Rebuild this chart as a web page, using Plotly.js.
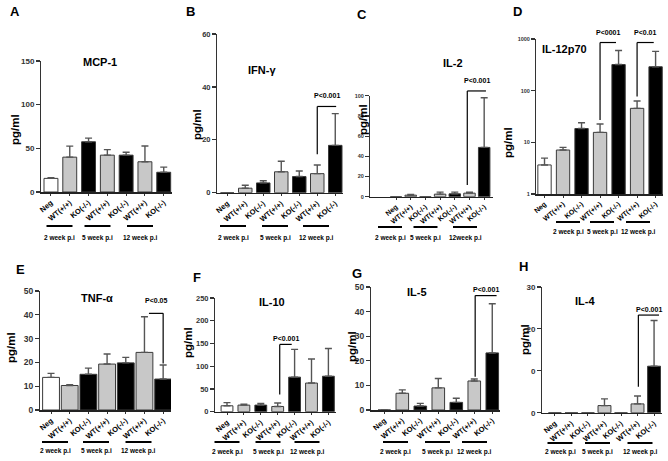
<!DOCTYPE html>
<html><head><meta charset="utf-8">
<script src="https://cdn.plot.ly/plotly-3.0.1.min.js"></script>
<style>body{margin:0;background:#fff}#chart{width:668px;height:461px}</style>
</head><body><div id="chart"></div>
<script>
// ---------- data ----------
const categories = ['Neg', 'WT(+/+)', 'KO(-/-)', 'WT(+/+)', 'KO(-/-)', 'WT(+/+)', 'KO(-/-)'];
const groupNames = ['2 week p.i', '5 week p.i', '12 week p.i'];
const groupNamesC = ['2 week p.i', '5 week p.i', '12week p.i'];

const mcp1Mean = [15.6, 39.9, 57.5, 42.2, 42.2, 34.6, 22.6];
const mcp1Sem  = [0.7, 12.6, 4.2, 6.3, 3.4, 18.0, 5.9];
const ifngMean = [0, 1.7, 3.7, 7.9, 6.1, 7.2, 17.9];
const ifngSem  = [0, 1.1, 0.8, 4.0, 2.1, 3.3, 12.0];
const il2Mean  = [0, 1.5, 0, 2.5, 2.8, 3.5, 48.8];
const il2Sem   = [0, 0.8, 0, 2.0, 1.7, 1.0, 49.2];
const il12Mean = [3.65, 7.1, 18.5, 15.6, 320, 45.5, 290];
const il12Sem  = [1.3, 0.9, 5.5, 7.1, 280, 17.5, 285];
const tnfMean  = [13.7, 10.3, 15.0, 19.3, 19.8, 24.2, 13.0];
const tnfSem   = [1.7, 0.3, 2.6, 4.2, 2.3, 15.0, 5.9];
const il10Mean = [13, 14.5, 14.5, 11.5, 76, 63, 78];
const il10Sem  = [7, 2, 3.5, 7.5, 61, 53, 61];
const il5Mean  = [0, 6.8, 1.6, 9.0, 3.1, 11.8, 23.2];
const il5Sem   = [0, 1.4, 1.1, 3.8, 1.7, 0.8, 20.0];
const il4Mean  = [0, 0, 0, 1.7, 0, 2.1, 11.1];
const il4Sem   = [0, 0, 0, 1.6, 0, 1.9, 10.9];

// ---------- styling / layout ----------
const W = 668, H = 461;
const FONT = 'Liberation Sans, Arial, sans-serif';
const barColors = ['#ffffff', '#c8c8c8', '#000000', '#c8c8c8', '#000000', '#c8c8c8', '#000000'];

const panels = [
  {letter:'A', title:'MCP-1', mean:mcp1Mean, sem:mcp1Sem, xpx:[41,172], ypx:[61,192], xr:[-0.53,6.44], yr:[0,150],
   tv:[0,50,100,150], tick:8, cat:7.5, bw:0.74, letterP:[15,12], titleP:[100,62], ylabP:[15,130],
   groups:{c:[59.5,97.5,140], half:13, ly:226, ty:238, names:groupNames}, br:[]},
  {letter:'B', title:'IFN-γ', mean:ifngMean, sem:ifngSem, xpx:[217,343], ypx:[34,192.7], xr:[-0.57,6.43], yr:[0,60],
   tv:[0,20,40,60], tick:7.5, cat:7.5, bw:0.75, letterP:[190,12], titleP:[262,70], ylabP:[197,125],
   groups:{c:[233,275,316], half:13, ly:226, ty:238, names:groupNames},
   br:[{leg:5, end:6.05, level:32.6, bottom:14.5, text:'P<0.001', dy:11}]},
  {letter:'C', title:'IL-2', mean:il2Mean, sem:il2Sem, xpx:[370,493], ypx:[95.7,196.7], xr:[-1.77,6.6], yr:[0,100],
   tv:[0,20,40,60,80,100], tick:5.5, cat:7, bw:0.78, letterP:[362,15], titleP:[453,63], ylabP:[363,120],
   groups:{c:[390,425.5,465], half:12, ly:227, ty:238, names:groupNamesC},
   br:[{leg:4.85, end:6.12, level:104.7, bottom:11.6, text:'P<0.001', dy:10}]},
  {letter:'D', title:'IL-12p70', mean:il12Mean, sem:il12Sem, xpx:[536,663], ypx:[39,194], xr:[-0.46,6.4], yr:[0,3], log:true,
   tv:[1,10,100,1000], tick:5.5, cat:7, bw:0.72, letterP:[517,12], titleP:[564,49], ylabP:[508,143],
   groups:{c:[568,602,638], half:12, ly:222, ty:232, names:groupNames},
   br:[{leg:3, end:3.86, level:855, bottom:27.2, text:'P<0001', dy:10},
       {leg:5, end:5.9, level:855, bottom:76.9, text:'P<0.01', dy:10}]},
  {letter:'E', title:'TNF-α', mean:tnfMean, sem:tnfSem, xpx:[40,171], ypx:[291,410], xr:[-0.59,6.42], yr:[0,50],
   tv:[0,10,20,30,40,50], tick:8.5, cat:7.5, bw:0.9, letterP:[20,269], titleP:[97,298], ylabP:[11,348],
   groups:{c:[55,96,138.5], half:13, ly:442, ty:451, names:groupNames},
   br:[{leg:6, end:5.24, level:40.6, bottom:19.5, text:'P<0.05', dy:13}]},
  {letter:'F', title:'IL-10', mean:il10Mean, sem:il10Sem, xpx:[215,336], ypx:[298,411.7], xr:[-0.71,6.45], yr:[0,250],
   tv:[0,50,100,150,200,250], tick:7.5, cat:7.5, bw:0.7, letterP:[197,277], titleP:[272,302], ylabP:[188,343],
   groups:{c:[227,268,307], half:12.5, ly:442, ty:451.5, names:groupNames},
   br:[{leg:3.12, end:3.83, level:148, bottom:38, text:'P<0.001', dy:6}]},
  {letter:'G', title:'IL-5', mean:il5Mean, sem:il5Sem, xpx:[371,500], ypx:[287,410], xr:[-0.74,6.43], yr:[0,50],
   tv:[0,10,20,30,40,50], tick:8.5, cat:7.5, bw:0.7, letterP:[357,273], titleP:[417,292], ylabP:[352,347],
   groups:{c:[395.5,437.5,474.5], half:12.5, ly:442, ty:451.5, names:groupNames},
   br:[{leg:5.05, end:6.24, level:46.5, bottom:13.5, text:'P<0.001', dy:6}]},
  {letter:'H', title:'IL-4', mean:il4Mean, sem:il4Sem, xpx:[542,662], ypx:[287,412.7], xr:[-0.78,6.48], yr:[0,30],
   tv:[0,10,20,30], tt:['0','0','20','30'], tick:8, cat:7.5, bw:0.78, letterP:[523,266], titleP:[585,301], ylabP:[525,340],
   groups:{c:[560,597.5,640], half:12.5, ly:443, ty:451.5, names:groupNames},
   br:[{leg:5.05, end:6.3, level:23.3, bottom:6.2, text:'P<0.001', dy:6}]}
];

const px2x = v => v / W;
const px2y = v => 1 - v / H;
function xPx(p, xd) { return p.xpx[0] + (xd - p.xr[0]) / (p.xr[1] - p.xr[0]) * (p.xpx[1] - p.xpx[0]); }
function yPx(p, v) {
  const f = p.log ? (Math.log10(v) - p.yr[0]) / (p.yr[1] - p.yr[0]) : (v - p.yr[0]) / (p.yr[1] - p.yr[0]);
  return p.ypx[1] - f * (p.ypx[1] - p.ypx[0]);
}

const traces = [], shapes = [], annotations = [];
const layout = {
  width: W, height: H, margin: {l:0, r:0, t:0, b:0}, showlegend: false,
  paper_bgcolor: '#fff', plot_bgcolor: '#fff',
  font: {family: FONT, color: '#000'}
};
const xs = categories.map((c, i) => i);

panels.forEach((p, k) => {
  const n = k + 1, sx = n === 1 ? '' : String(n);
  traces.push({
    type: 'bar', x: xs, y: p.mean, xaxis: 'x' + sx, yaxis: 'y' + sx, width: p.bw,
    marker: {color: barColors, line: {color: '#3a3a3a', width: 1}},
    error_y: {type: 'data', symmetric: false, array: p.sem, arrayminus: p.sem.map(() => 0),
              color: '#555', thickness: 1.4, width: 3.5},
    hoverinfo: 'skip'
  });
  layout['xaxis' + sx] = {
    domain: [px2x(p.xpx[0]), px2x(p.xpx[1])], range: p.xr, anchor: 'y' + sx,
    tickmode: 'array', tickvals: xs, ticktext: categories, tickangle: -40,
    tickfont: {size: p.cat, family: FONT, weight: 'bold', color: '#000'},
    showline: true, linecolor: '#222', linewidth: 1.5, ticks: 'outside', ticklen: 2, tickcolor: '#333', tickwidth: 1,
    showgrid: false, zeroline: false, fixedrange: true
  };
  layout['yaxis' + sx] = {
    domain: [px2y(p.ypx[1]), px2y(p.ypx[0])], range: p.yr, anchor: 'x' + sx,
    type: p.log ? 'log' : 'linear',
    tickmode: 'array', tickvals: p.tv, ticktext: p.tt || p.tv.map(String),
    tickfont: {size: p.tick, family: FONT, weight: 'bold', color: '#333'},
    showline: true, linecolor: '#333', linewidth: 1.5, ticks: 'outside', ticklen: 3.5, tickcolor: '#333', tickwidth: 1.2,
    showgrid: false, zeroline: false, fixedrange: true
  };
  annotations.push({text: '<b>' + p.letter + '</b>', x: px2x(p.letterP[0]), y: px2y(p.letterP[1]), xref: 'paper', yref: 'paper',
    showarrow: false, xanchor: 'center', yanchor: 'middle', font: {size: 13, family: FONT, color: '#000'}});
  annotations.push({text: '<b>' + p.title + '</b>', x: px2x(p.titleP[0]), y: px2y(p.titleP[1]), xref: 'paper', yref: 'paper',
    showarrow: false, xanchor: 'center', yanchor: 'middle', font: {size: 11, family: FONT, color: '#000'}});
  annotations.push({text: '<b>pg/ml</b>', x: px2x(p.ylabP[0]), y: px2y(p.ylabP[1]), xref: 'paper', yref: 'paper', textangle: -90,
    showarrow: false, xanchor: 'center', yanchor: 'middle', font: {size: 11.5, family: FONT, color: '#000'}});
  p.groups.c.forEach((c, g) => {
    shapes.push({type: 'line', xref: 'paper', yref: 'paper', x0: px2x(c - p.groups.half), x1: px2x(c + p.groups.half),
      y0: px2y(p.groups.ly), y1: px2y(p.groups.ly), line: {color: '#000', width: 2}});
    annotations.push({text: '<b>' + p.groups.names[g] + '</b>', x: px2x(c), y: px2y(p.groups.ty), xref: 'paper', yref: 'paper',
      showarrow: false, xanchor: 'center', yanchor: 'middle', font: {size: 6.5, family: FONT, color: '#000'}});
  });
  p.br.forEach(b => {
    const lx = xPx(p, b.leg), ex = xPx(p, b.end), ly = yPx(p, b.level), by = yPx(p, b.bottom);
    shapes.push({type: 'line', xref: 'paper', yref: 'paper', x0: px2x(lx), x1: px2x(lx), y0: px2y(by), y1: px2y(ly),
      line: {color: '#000', width: 1.2}});
    shapes.push({type: 'line', xref: 'paper', yref: 'paper', x0: px2x(lx), x1: px2x(ex), y0: px2y(ly), y1: px2y(ly),
      line: {color: '#000', width: 1.2}});
    annotations.push({text: '<b>' + b.text + '</b>', x: px2x((lx + ex) / 2), y: px2y(ly - b.dy), xref: 'paper', yref: 'paper',
      showarrow: false, xanchor: 'center', yanchor: 'middle', font: {size: 7, family: FONT, color: '#000'}});
  });
});

layout.shapes = shapes;
layout.annotations = annotations;
Plotly.newPlot('chart', traces, layout, {staticPlot: true, displayModeBar: false});
</script></body></html>
